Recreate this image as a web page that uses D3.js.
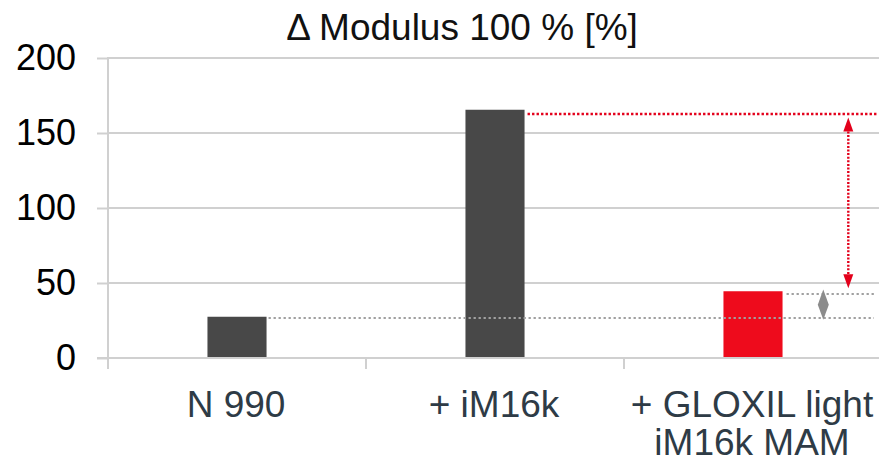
<!DOCTYPE html>
<html>
<head>
<meta charset="utf-8">
<script src="https://cdn.jsdelivr.net/npm/d3@7"></script>
<style>
  html, body { margin: 0; padding: 0; background: #ffffff; }
  svg { display: block; }
  text { font-family: "Liberation Sans", Arial, sans-serif; }
</style>
</head>
<body>
<svg id="chart" width="879" height="462"></svg>
<script>
// ---- data ----
const title = "\u0394 Modulus 100 % [%]";
const categories = ["N 990", "+ iM16k", "+ GLOXIL light\niM16k MAM"];
const values = [27.5, 165.5, 44.5];
const barColors = ["#484848", "#484848", "#ee0b1c"];
const yTicks = [0, 50, 100, 150, 200];
const baseLevel = 26.8;      // grey dotted reference (N 990 level)
const redLevel = 163;        // red dotted reference (+ iM16k level)
const redArrowEnd = 46.5;    // lower tip of red double arrow
const greyUpperLevel = 42.7; // grey dotted level next to red bar

// ---- layout ----
const svg = d3.select("#chart");
const W = 879, H = 462;
const mLeft = 108, mRight = 882, mTop = 58, mBottom = 358;

const x = d3.scaleBand().domain(categories).range([mLeft, mRight])
  .paddingInner(0.771).paddingOuter(0.3855);
const xBound = d3.scaleBand().domain(categories).range([mLeft, mRight]).padding(0);
const y = d3.scaleLinear().domain([0, 200]).range([mBottom, mTop]);

const gridColor = "#d0d0d0";

// gridlines
svg.append("g").selectAll("line").data(yTicks.filter(d => d > 0)).join("line")
  .attr("x1", mLeft).attr("x2", W)
  .attr("y1", d => y(d)).attr("y2", d => y(d))
  .attr("stroke", gridColor).attr("stroke-width", 2);

// y axis
const yAxis = svg.append("g").attr("transform", `translate(${mLeft},0)`)
  .call(d3.axisLeft(y).tickValues(yTicks).tickSize(11).tickPadding(21));
yAxis.select(".domain").remove();
yAxis.selectAll(".tick line").attr("stroke", gridColor).attr("stroke-width", 2);
yAxis.selectAll(".tick text")
  .attr("fill", "#000").attr("font-size", 36)
  .attr("font-family", "Liberation Sans, Arial, sans-serif");
svg.append("line").attr("x1", mLeft).attr("x2", mLeft)
  .attr("y1", mTop - 1).attr("y2", mBottom + 11)
  .attr("stroke", gridColor).attr("stroke-width", 2);

// bars
svg.append("g").selectAll("rect").data(categories).join("rect")
  .attr("x", d => x(d))
  .attr("width", x.bandwidth())
  .attr("y", (d, i) => y(values[i]))
  .attr("height", (d, i) => y(0) - y(values[i]))
  .attr("fill", (d, i) => barColors[i]);

// x axis baseline and boundary ticks
svg.append("line").attr("x1", mLeft - 11).attr("x2", W)
  .attr("y1", y(0)).attr("y2", y(0))
  .attr("stroke", gridColor).attr("stroke-width", 2);
svg.append("g").selectAll("line").data(categories.slice(1)).join("line")
  .attr("x1", d => xBound(d)).attr("x2", d => xBound(d))
  .attr("y1", y(0)).attr("y2", y(0) + 11)
  .attr("stroke", gridColor).attr("stroke-width", 2);

// category labels
const lab = svg.append("g").selectAll("text").data(categories).join("text")
  .attr("text-anchor", "middle")
  .attr("font-size", 37)
  .attr("fill", "#2e3b46");
lab.each(function(d) {
  const t = d3.select(this);
  const cx = x(d) + x.bandwidth() / 2 - 1;
  d.split("\n").forEach((line, k) => {
    t.append("tspan").attr("x", cx).attr("y", 417 + k * 37.5).text(line);
  });
});

// reference lines
const grey = "#a0a0a0", red = "#e3001b";
const x0end = x(categories[0]) + x.bandwidth();
const x1end = x(categories[1]) + x.bandwidth();
const x2end = x(categories[2]) + x.bandwidth();
svg.append("line").attr("x1", x0end + 2).attr("x2", 874)
  .attr("y1", Math.round(y(baseLevel))).attr("y2", Math.round(y(baseLevel)))
  .attr("stroke", grey).attr("stroke-width", 2).attr("stroke-dasharray", "2.3,2.7");
svg.append("line").attr("x1", x2end + 4).attr("x2", 874)
  .attr("y1", Math.round(y(greyUpperLevel))).attr("y2", Math.round(y(greyUpperLevel)))
  .attr("stroke", grey).attr("stroke-width", 2).attr("stroke-dasharray", "2.3,2.7");
svg.append("line").attr("x1", x1end + 3).attr("x2", 877)
  .attr("y1", Math.round(y(redLevel))).attr("y2", Math.round(y(redLevel)))
  .attr("stroke", red).attr("stroke-width", 2.4).attr("stroke-dasharray", "2.4,2.1");

// red double arrow
const ax = 848.3;
const ahH = 14, ahW = 10;
const yTopTip = y(redLevel) + 4, yBotTip = y(redArrowEnd);
svg.append("line").attr("x1", ax).attr("x2", ax)
  .attr("y1", yTopTip + ahH).attr("y2", yBotTip - ahH)
  .attr("stroke", red).attr("stroke-width", 2.4).attr("stroke-dasharray", "2,1.6");
svg.append("path")
  .attr("d", `M${ax},${yTopTip} L${ax + ahW / 2},${yTopTip + ahH} L${ax - ahW / 2},${yTopTip + ahH} Z`)
  .attr("fill", red);
svg.append("path")
  .attr("d", `M${ax},${yBotTip} L${ax + ahW / 2},${yBotTip - ahH} L${ax - ahW / 2},${yBotTip - ahH} Z`)
  .attr("fill", red);

// grey diamond (small double arrow)
const gx = 823.3;
const gTop = y(greyUpperLevel) - 4.5, gBot = y(baseLevel) + 2;
const gMid = (gTop + gBot) / 2;
svg.append("path")
  .attr("d", `M${gx},${gTop} L${gx + 5.5},${gMid} L${gx},${gBot} L${gx - 5.5},${gMid} Z`)
  .attr("fill", "#8c8c8c");

// title
svg.append("text").attr("x", 462).attr("y", 40)
  .attr("text-anchor", "middle").attr("font-size", 37).attr("fill", "#111")
  .text(title);
</script>
</body>
</html>
